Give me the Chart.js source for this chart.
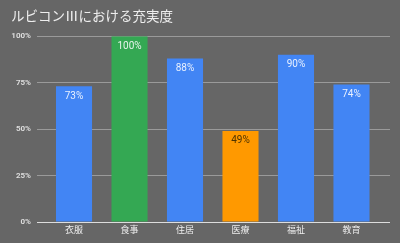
<!DOCTYPE html>
<html>
<head>
<meta charset="utf-8">
<script src="https://cdn.jsdelivr.net/npm/chart.js@4"></script>
<style>
  html, body { margin: 0; padding: 0; background: #666666; }
  #wrap { width: 400px; height: 243px; }
</style>
</head>
<body>
<div id="wrap"><canvas id="chart"></canvas></div>
<script>
const categories = ['衣服', '食事', '住居', '医療', '福祉', '教育'];
const values = [73, 100, 88, 49, 90, 74];
const barColors = ['#4285f4', '#34a853', '#4285f4', '#ff9900', '#4285f4', '#4285f4'];
const labelColors = ['#e8f0fe', '#e6f4ea', '#e8f0fe', '#4d3300', '#e8f0fe', '#e8f0fe'];
const yTicks = [0, 25, 50, 75, 100];

const fontFamily = "Roboto, Arial, 'Liberation Sans', 'Noto Sans CJK JP', sans-serif";

// draws the value inside the top of each bar
const barLabels = {
    id: 'barLabels',
    afterDatasetsDraw(chart) {
        const ctx = chart.ctx;
        const meta = chart.getDatasetMeta(0);
        ctx.save();
        ctx.font = '10px ' + fontFamily;
        ctx.textAlign = 'center';
        ctx.textBaseline = 'middle';
        meta.data.forEach((bar, i) => {
            ctx.fillStyle = labelColors[i];
            ctx.fillText(values[i] + '%', bar.x, bar.y + 10);
        });
        ctx.restore();
    }
};

new Chart(document.getElementById('chart'), {
    type: 'bar',
    data: {
        datasets: [{
            data: values.map((v, i) => ({ x: i, y: v })),
            backgroundColor: barColors,
            categoryPercentage: 1,
            barPercentage: 0.65,
            borderWidth: 0
        }]
    },
    options: {
        responsive: true,
        maintainAspectRatio: false,
        animation: false,
        layout: { padding: { left: 11, right: 10, top: 0, bottom: 0 } },
        plugins: {
            legend: { display: false },
            tooltip: { enabled: false },
            title: {
                display: true,
                text: 'ルビコンⅢにおける充実度',
                align: 'start',
                color: '#eeeeee',
                font: { family: fontFamily, size: 13.5, weight: 'normal' },
                padding: { top: 10, bottom: 10 }
            }
        },
        scales: {
            x: {
                type: 'linear',
                offset: false,
                min: -0.667,
                max: 5.694,
                grid: { display: false, drawTicks: false },
                border: { display: false },
                afterBuildTicks: (scale) => {
                    scale.ticks = categories.map((c, i) => ({ value: i }));
                },
                afterFit: (scale) => { scale.height = 21; },
                ticks: {
                    color: '#eeeeee',
                    font: { family: fontFamily, size: 9 },
                    padding: 3,
                    callback: (v) => categories[v]
                }
            },
            y: {
                min: 0,
                max: 100,
                afterBuildTicks: (scale) => {
                    scale.ticks = yTicks.map(v => ({ value: v }));
                },
                afterFit: (scale) => { scale.width = 26; },
                border: { display: false },
                grid: {
                    drawTicks: false,
                    color: (c) => c.tick && c.tick.value === 0 ? '#dddddd' : '#9a9a9a',
                    lineWidth: 1
                },
                ticks: {
                    color: '#dddddd',
                    font: { family: fontFamily, size: 8, weight: 'bold' },
                    padding: 6,
                    callback: (v) => v + '%'
                }
            }
        }
    },
    plugins: [barLabels]
});
</script>
</body>
</html>
